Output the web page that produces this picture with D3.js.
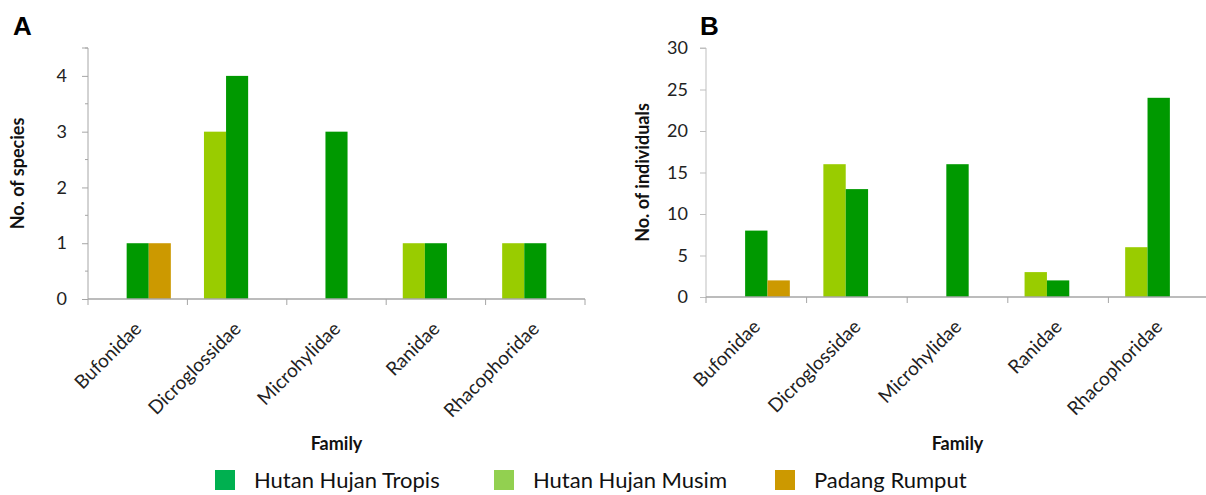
<!DOCTYPE html>
<html>
<head>
<meta charset="utf-8">
<script src="https://cdn.jsdelivr.net/npm/d3@7"></script>
<style>
  html, body { margin: 0; padding: 0; background: #fff; }
  svg { display: block; font-family: Lato, "Open Sans", sans-serif; }
</style>
</head>
<body>
<svg id="chart" width="1206" height="495"></svg>
<script>
// Amphibian families recorded in three habitat types
const families = ["Bufonidae", "Dicroglossidae", "Microhylidae", "Ranidae", "Rhacophoridae"];

// Bar order inside each family cluster
const seriesOrder = ["Hutan Hujan Musim", "Hutan Hujan Tropis", "Padang Rumput"];
// Legend order
const legendOrder = ["Hutan Hujan Tropis", "Hutan Hujan Musim", "Padang Rumput"];

// Panel A: number of species
const speciesTropis = [1, 4, 3, 1, 1];
const speciesMusim  = [0, 3, 0, 1, 1];
const speciesPadang = [1, 0, 0, 0, 0];

// Panel B: number of individuals
const individualsTropis = [8, 13, 16, 2, 24];
const individualsMusim  = [0, 16, 0, 3, 6];
const individualsPadang = [2, 0, 0, 0, 0];

// Tick values
const speciesTicks = [0, 1, 2, 3, 4];
const speciesMinorTicks = [0.5, 1.5, 2.5, 3.5, 4.5];
const individualsTicks = [0, 5, 10, 15, 20, 25, 30];

const barColors = {
  "Hutan Hujan Tropis": "#009900",
  "Hutan Hujan Musim": "#99CC00",
  "Padang Rumput": "#CC9900"
};
const legendColors = {
  "Hutan Hujan Tropis": "#00B050",
  "Hutan Hujan Musim": "#92D050",
  "Padang Rumput": "#CC9900"
};

const svg = d3.select("#chart");

function drawPanel(opts) {
  const { letter, letterX, x0, x1, yTop, yBottom, yMax, ticks, minorTicks,
          data, yTitle, yTitleX, labelPad, yAxisColor } = opts;

  const g = svg.append("g");

  const x = d3.scaleBand().domain(families).range([x0, x1]).paddingInner(0).paddingOuter(0);
  const xSub = d3.scaleBand().domain(seriesOrder).range([0, x.bandwidth()])
    .paddingInner(0).paddingOuter(0.75);
  const y = d3.scaleLinear().domain([0, yMax]).range([yBottom, yTop]);

  // bars
  const rows = [];
  families.forEach((f, i) => {
    seriesOrder.forEach(s => {
      rows.push({ family: f, series: s, value: data[s][i] });
    });
  });
  g.selectAll("rect.bar")
    .data(rows.filter(d => d.value > 0))
    .join("rect")
    .attr("class", "bar")
    .attr("x", d => x(d.family) + xSub(d.series))
    .attr("width", xSub.bandwidth())
    .attr("y", d => y(d.value))
    .attr("height", d => y(0) - y(d.value))
    .attr("fill", d => barColors[d.series]);

  // y axis
  const yAxis = d3.axisLeft(y).tickValues(ticks).tickSize(6).tickPadding(labelPad)
    .tickFormat(d3.format("d"));
  const ya = g.append("g").attr("transform", `translate(${x0},0)`).call(yAxis);
  ya.select(".domain").attr("stroke", yAxisColor).attr("d", `M-6,${y(yMax)}H0V${yBottom}`);
  ya.selectAll(".tick line").attr("stroke", yAxisColor);
  ya.selectAll(".tick text").attr("fill", "#222").style("font-size", "18px")
    .style("font-family", "Lato, sans-serif");

  if (minorTicks) {
    g.append("g").selectAll("line")
      .data(minorTicks)
      .join("line")
      .attr("x1", x0 - 3).attr("x2", x0)
      .attr("y1", d => y(d)).attr("y2", d => y(d))
      .attr("stroke", yAxisColor);
  }

  // x axis line and category boundary ticks
  g.append("line")
    .attr("x1", x0).attr("x2", x1)
    .attr("y1", yBottom).attr("y2", yBottom)
    .attr("stroke", "#A6A6A6").attr("stroke-width", 1.5);
  const bounds = families.map(f => x(f)).concat([x1]);
  g.append("g").selectAll("line")
    .data(bounds)
    .join("line")
    .attr("x1", d => d).attr("x2", d => d)
    .attr("y1", yBottom).attr("y2", yBottom + 6)
    .attr("stroke", "#A6A6A6");

  // rotated category labels
  g.append("g").selectAll("text")
    .data(families)
    .join("text")
    .attr("transform", d => `translate(${x(d) + x.bandwidth() / 2 + 5},${yBottom + 31}) rotate(-45)`)
    .attr("text-anchor", "end")
    .style("font-size", "19px")
    .attr("fill", "#222")
    .text(d => d);

  // axis titles
  g.append("text")
    .attr("transform", `translate(${yTitleX},${(yTop + yBottom) / 2}) rotate(-90)`)
    .attr("text-anchor", "middle")
    .style("font-size", "18px").style("font-weight", "bold")
    .attr("fill", "#111")
    .text(yTitle);

  g.append("text")
    .attr("x", (x0 + x1) / 2).attr("y", 450)
    .attr("text-anchor", "middle")
    .style("font-size", "18px").style("font-weight", "bold")
    .attr("fill", "#111")
    .text("Family");

  // panel letter
  g.append("text")
    .attr("x", letterX).attr("y", 35)
    .style("font-size", "26px").style("font-weight", "bold")
    .style("font-family", "Liberation Sans, Arial, sans-serif")
    .attr("fill", "#000")
    .text(letter);
}

drawPanel({
  letter: "A", letterX: 13,
  x0: 88, x1: 585, yTop: 48, yBottom: 299, yMax: 4.5,
  ticks: speciesTicks, minorTicks: speciesMinorTicks,
  data: {
    "Hutan Hujan Tropis": speciesTropis,
    "Hutan Hujan Musim": speciesMusim,
    "Padang Rumput": speciesPadang
  },
  yTitle: "No. of species", yTitleX: 24, labelPad: 15, yAxisColor: "#A6A6A6"
});

drawPanel({
  letter: "B", letterX: 700,
  x0: 706, x1: 1209, yTop: 48, yBottom: 297, yMax: 30,
  ticks: individualsTicks, minorTicks: null,
  data: {
    "Hutan Hujan Tropis": individualsTropis,
    "Hutan Hujan Musim": individualsMusim,
    "Padang Rumput": individualsPadang
  },
  yTitle: "No. of individuals", yTitleX: 649, labelPad: 12, yAxisColor: "#BFBFBF"
});

// legend
const legendX = d3.scaleOrdinal().domain(legendOrder).range([215, 494, 775]);
const lg = svg.append("g").selectAll("g")
  .data(legendOrder)
  .join("g")
  .attr("transform", d => `translate(${legendX(d)},470)`);
lg.append("rect")
  .attr("width", 20).attr("height", 20)
  .attr("fill", d => legendColors[d]);
lg.append("text")
  .attr("x", 39).attr("y", 18)
  .style("font-size", "22px")
  .attr("fill", "#111")
  .text(d => d);
</script>
</body>
</html>
